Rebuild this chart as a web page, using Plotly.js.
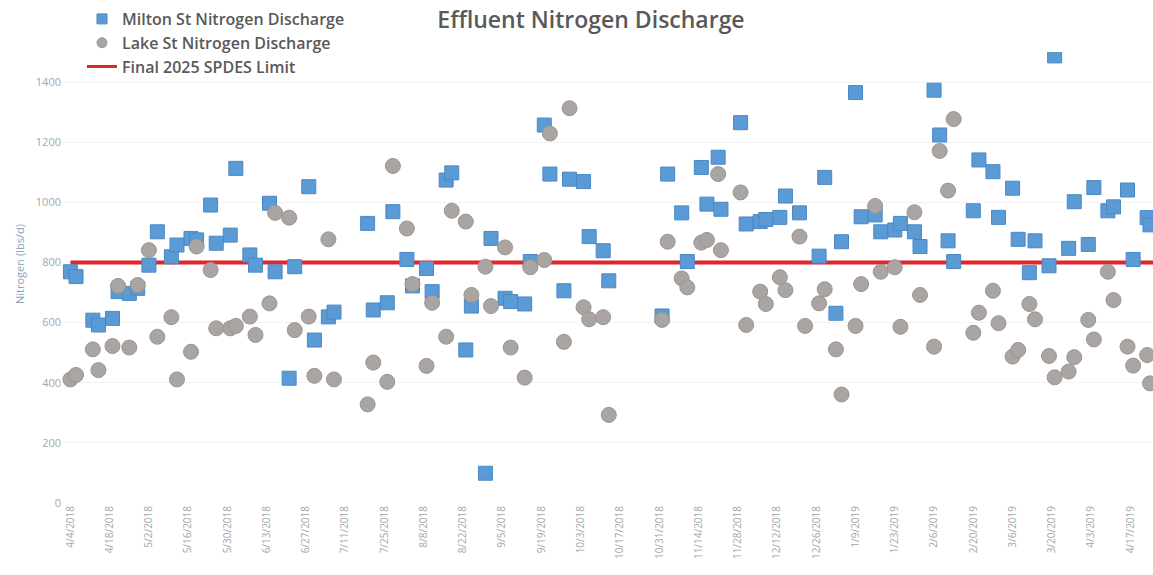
<!DOCTYPE html>
<html>
<head>
<meta charset="utf-8">
<script src="https://cdn.plot.ly/plotly-3.0.1.min.js"></script>
<style>html,body{margin:0;padding:0;background:#fff;}#chart{width:1153px;height:575px;}</style>
</head>
<body>
<div id="chart"></div>
<script>
const dates = [
'2018-04-04','2018-04-06','2018-04-12','2018-04-14','2018-04-19','2018-04-21','2018-04-25','2018-04-28',
'2018-05-02','2018-05-05','2018-05-10','2018-05-12','2018-05-17','2018-05-19','2018-05-24','2018-05-26',
'2018-05-31','2018-06-02','2018-06-07','2018-06-09','2018-06-14','2018-06-16','2018-06-21','2018-06-23',
'2018-06-28','2018-06-30','2018-07-05','2018-07-07','2018-07-19','2018-07-21','2018-07-26','2018-07-28',
'2018-08-02','2018-08-04','2018-08-09','2018-08-11','2018-08-16','2018-08-18','2018-08-23','2018-08-25',
'2018-08-30','2018-09-01','2018-09-06','2018-09-08','2018-09-13','2018-09-15','2018-09-20','2018-09-22',
'2018-09-27','2018-09-29','2018-10-04','2018-10-06','2018-10-11','2018-10-13','2018-11-01','2018-11-03',
'2018-11-08','2018-11-10','2018-11-15','2018-11-17','2018-11-21','2018-11-22','2018-11-29','2018-12-01',
'2018-12-06','2018-12-08','2018-12-13','2018-12-15','2018-12-20','2018-12-22','2018-12-27','2018-12-29',
'2019-01-02','2019-01-04','2019-01-09','2019-01-11','2019-01-16','2019-01-18','2019-01-23','2019-01-25',
'2019-01-30','2019-02-01','2019-02-06','2019-02-08','2019-02-11','2019-02-13','2019-02-20','2019-02-22',
'2019-02-27','2019-03-01','2019-03-06','2019-03-08','2019-03-12','2019-03-14','2019-03-19','2019-03-21',
'2019-03-26','2019-03-28','2019-04-02','2019-04-04','2019-04-09','2019-04-11','2019-04-16','2019-04-18',
'2019-04-23','2019-04-24'
];
const miltonValues = [
769,753,608,592,614,703,697,714,
791,902,819,858,880,875,991,864,
891,1113,825,791,997,769,415,786,
1052,542,619,635,930,642,666,969,
810,722,780,703,1074,1098,509,655,
99,880,681,670,662,803,1257,1094,
706,1077,1069,886,839,739,622,1094,
965,803,1116,994,1150,977,1265,928,
936,943,950,1021,965,null,821,1083,
631,869,1365,952,958,902,908,930,
902,853,1373,1224,872,803,972,1141,
1102,950,1047,877,766,872,789,1487,
847,1002,860,1049,972,985,1041,810,
949,925
];
const lakeValues = [
411,426,511,442,522,722,517,725,
841,553,618,411,503,853,775,581,
581,589,620,559,664,965,949,575,
620,423,877,411,328,467,403,1121,
913,728,456,666,553,972,936,692,
786,655,850,517,417,784,808,1229,
536,1313,651,611,618,293,609,869,
747,717,866,875,1094,841,1033,592,
703,662,751,708,886,589,664,711,
511,361,589,728,988,769,784,586,
967,692,520,1171,1039,1277,566,633,
706,598,487,509,662,611,489,418,
437,485,609,544,769,675,520,457,
492,398
];
const limitValue = 800;
const limitDates = ['2018-04-04', '2019-04-26'];
const limitValues = [limitValue, limitValue];
const yTicks = [0, 200, 400, 600, 800, 1000, 1200, 1400];
const seriesNames = ['Milton St Nitrogen Discharge', 'Lake St Nitrogen Discharge', 'Final 2025 SPDES Limit'];

const FONT = '"Open Sans", Lato, sans-serif';
const BLUE = '#5b9bd5', BLUE_EDGE = '#4a88c4';
const GREY = '#aaa5a3', GREY_EDGE = '#9a9593';
const RED = '#e0252b';

const traces = [
  {
    type: 'scatter', mode: 'lines', name: seriesNames[2], showlegend: false,
    x: limitDates, y: limitValues,
    line: {color: RED, width: 4}
  },
  {
    type: 'scatter', mode: 'markers', name: seriesNames[0], showlegend: false,
    x: dates, y: miltonValues,
    marker: {symbol: 'square', size: 14, color: BLUE, line: {color: BLUE_EDGE, width: 1}}
  },
  {
    type: 'scatter', mode: 'markers', name: seriesNames[1], showlegend: false,
    x: dates, y: lakeValues,
    marker: {symbol: 'circle', size: 15, color: GREY, line: {color: GREY_EDGE, width: 1}}
  },
  // legend keys (no data)
  {
    type: 'scatter', mode: 'markers', name: seriesNames[0], x: [null], y: [null],
    marker: {symbol: 'square', size: 10, color: BLUE, line: {color: BLUE_EDGE, width: 1}}, legendrank: 1
  },
  {
    type: 'scatter', mode: 'markers', name: seriesNames[1], x: [null], y: [null],
    marker: {symbol: 'circle', size: 10, color: GREY, line: {color: GREY_EDGE, width: 1}}, legendrank: 2
  },
  {
    type: 'scatter', mode: 'lines', name: seriesNames[2], x: [null], y: [null],
    line: {color: RED, width: 3}, legendrank: 3
  }
];

const layout = {
  width: 1153, height: 575,
  margin: {l: 62, r: 0, t: 52, b: 72, autoexpand: false},
  paper_bgcolor: '#ffffff', plot_bgcolor: '#ffffff',
  font: {family: FONT, color: '#595959'},
  title: {
    text: 'Effluent Nitrogen Discharge',
    font: {family: FONT, size: 23, color: '#595959', weight: 600},
    x: 591/1153, xanchor: 'center', xref: 'container',
    y: 1 - 20/575, yanchor: 'middle', yref: 'container'
  },
  showlegend: true,
  legend: {
    x: 82/1153, xref: 'container', xanchor: 'left',
    y: 1 - 2/575, yref: 'container', yanchor: 'top',
    font: {family: FONT, size: 16, color: '#595959', weight: 600},
    bgcolor: 'rgba(0,0,0,0)', tracegroupgap: 0, itemsizing: 'trace'
  },
  xaxis: {
    type: 'date',
    range: ['2018-04-01', '2019-04-25 02:00'],
    tick0: '2018-04-04', dtick: 14 * 86400000,
    tickformat: '%-m/%-d/%Y', tickangle: -90,
    tickfont: {family: FONT, size: 10, color: '#a6a6a6'},
    showgrid: false, zeroline: false, showline: false, ticks: ''
  },
  yaxis: {
    range: [0, 1500],
    tickvals: yTicks,
    tickfont: {family: FONT, size: 11, color: '#a6a6a6'},
    showgrid: true, gridcolor: '#f3f3f3', gridwidth: 1,
    zeroline: false, showline: false, ticks: ''
  },
  annotations: [{
    text: 'Nitrogen (lbs/d)', textangle: -90,
    xref: 'paper', x: 0, xanchor: 'center', xshift: -42,
    yref: 'paper', y: 0.53, yanchor: 'middle',
    showarrow: false,
    font: {family: FONT, size: 11, color: '#8c9fb8'}
  }]
};

Plotly.newPlot('chart', traces, layout, {displayModeBar: false, staticPlot: true});
</script>
</body>
</html>
